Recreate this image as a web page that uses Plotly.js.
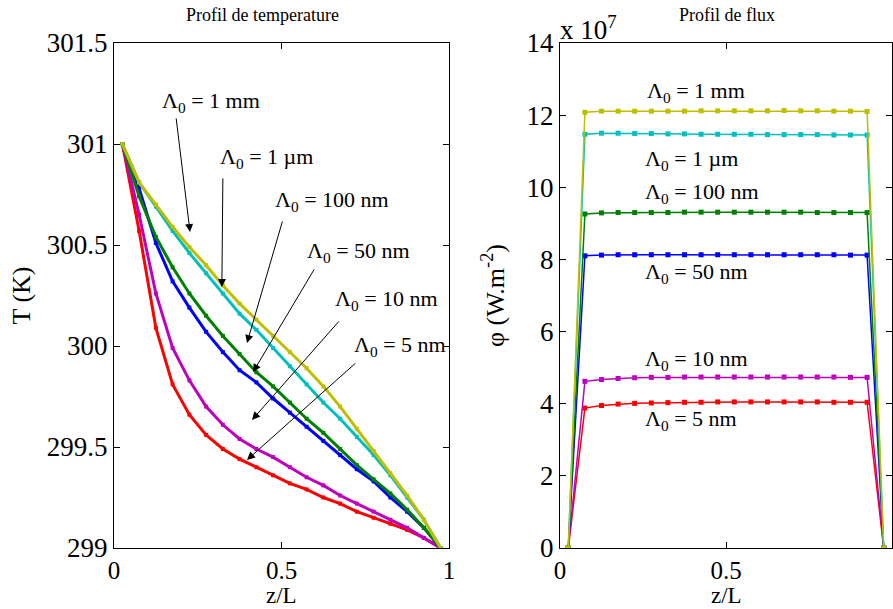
<!DOCTYPE html>
<html>
<head>
<meta charset="utf-8">
<script src="https://cdn.plot.ly/plotly-3.0.1.min.js"></script>
<style>html,body{margin:0;padding:0;background:#fff;}#chart{width:893px;height:609px;}</style>
</head>
<body>
<div id="chart"></div>
<script>
// positions z/L
const zT = [0.025,0.075,0.125,0.175,0.225,0.275,0.325,0.375,0.425,0.475,0.525,0.575,0.625,0.675,0.725,0.775,0.825,0.875,0.925,0.975];
const zF = [0.025,0.075,0.125,0.175,0.225,0.275,0.325,0.375,0.425,0.475,0.525,0.575,0.625,0.675,0.725,0.775,0.825,0.875,0.925,0.975];

const labels = ["Λ<sub>0</sub> = 5 nm","Λ<sub>0</sub> = 10 nm","Λ<sub>0</sub> = 50 nm","Λ<sub>0</sub> = 100 nm","Λ<sub>0</sub> = 1 µm","Λ<sub>0</sub> = 1 mm"];
const colors = ["#ff0000","#bf00bf","#0000ff","#008000","#00bfbf","#bfbf00"];

// Temperature profiles (K)
const T_5nm   = [301,300.57,300.09,299.81,299.66,299.56,299.49,299.44,299.40,299.36,299.32,299.29,299.25,299.22,299.18,299.15,299.12,299.09,299.05,299.0];
const T_10nm  = [301,300.65,300.26,299.99,299.83,299.70,299.61,299.54,299.49,299.45,299.40,299.35,299.31,299.26,299.22,299.18,299.14,299.10,299.05,299.0];
const T_50nm  = [301,300.78,300.51,300.32,300.19,300.07,299.97,299.88,299.82,299.74,299.67,299.60,299.53,299.46,299.39,299.33,299.25,299.18,299.10,299.0];
const T_100nm = [301,300.74,300.54,300.39,300.26,300.15,300.05,299.96,299.87,299.80,299.72,299.64,299.57,299.49,299.41,299.34,299.27,299.19,299.10,299.0];
const T_1um   = [301,300.81,300.69,300.57,300.46,300.36,300.26,300.16,300.08,299.99,299.90,299.81,299.72,299.64,299.55,299.46,299.36,299.25,299.14,299.0];
const T_1mm   = [301,300.81,300.70,300.59,300.49,300.40,300.30,300.21,300.13,300.05,299.97,299.89,299.80,299.70,299.59,299.48,299.37,299.26,299.14,299.0];

// Flux profiles (x 1e7 W.m^-2)
const F_5nm   = [0,3.88,3.95,3.99,4.01,4.02,4.03,4.04,4.04,4.05,4.05,4.05,4.05,4.05,4.05,4.05,4.04,4.04,4.04,0];
const F_10nm  = [0,4.62,4.67,4.70,4.72,4.73,4.73,4.74,4.74,4.74,4.74,4.74,4.74,4.74,4.74,4.74,4.74,4.73,4.73,0];
const F_50nm  = [0,8.10,8.12,8.13,8.13,8.13,8.13,8.13,8.13,8.13,8.13,8.13,8.13,8.13,8.13,8.13,8.13,8.12,8.12,0];
const F_100nm = [0,9.26,9.29,9.30,9.30,9.30,9.30,9.31,9.31,9.31,9.31,9.31,9.31,9.31,9.31,9.30,9.30,9.30,9.30,0];
const F_1um   = [0,11.47,11.50,11.50,11.49,11.49,11.48,11.48,11.47,11.47,11.47,11.47,11.46,11.46,11.46,11.46,11.45,11.45,11.45,0];
const F_1mm   = [0,12.08,12.11,12.11,12.11,12.11,12.11,12.11,12.12,12.12,12.12,12.12,12.12,12.13,12.12,12.12,12.11,12.11,12.10,0];

const Tset = [T_5nm,T_10nm,T_50nm,T_100nm,T_1um,T_1mm];
const Fset = [F_5nm,F_10nm,F_50nm,F_100nm,F_1um,F_1mm];

const FONT = "Liberation Serif, Times New Roman, serif";
const traces = [];
Tset.forEach((y,i)=>traces.push({x:zT,y:y,xaxis:'x',yaxis:'y',mode:'lines+markers',
  line:{color:colors[i],width:3},marker:{symbol:'square',size:4,color:colors[i]},name:labels[i],showlegend:false,hoverinfo:'skip'}));
Fset.forEach((y,i)=>traces.push({x:zF,y:y,xaxis:'x2',yaxis:'y2',mode:'lines+markers',
  line:{color:colors[i],width:1.5},marker:{symbol:'square',size:5,color:colors[i]},name:labels[i],showlegend:false,hoverinfo:'skip'}));

const W=893,H=609;
const axBase = {showline:true,mirror:'ticks',linecolor:'#000',linewidth:1,ticks:'inside',ticklen:6,tickcolor:'#000',
  showgrid:false,zeroline:false,tickfont:{family:FONT,size:27,color:'#000'},automargin:false};
const xTickFont = {family:FONT,size:25,color:'#000'};

// arrow annotations (left)
const arrowTxt = ["Λ<sub>0</sub> = 1 mm","Λ<sub>0</sub> = 1 µm","Λ<sub>0</sub> = 100 nm","Λ<sub>0</sub> = 50 nm","Λ<sub>0</sub> = 10 nm","Λ<sub>0</sub> = 5 nm"];
const txtX = [0.137,0.31,0.475,0.57,0.654,0.710];
const txtY = [301.21,300.93,300.72,300.465,300.228,300.0];
const tailX = [0.185,0.325,0.504,0.600,0.675,0.725];
const tailY = [301.134,300.837,300.624,300.386,300.129,299.921];
const headX = [0.227,0.322,0.397,0.415,0.412,0.397];
const headY = [300.564,300.292,300.015,299.871,299.634,299.436];

const ann = [];
arrowTxt.forEach((t,i)=>{
  ann.push({x:txtX[i],y:txtY[i],xref:'x',yref:'y',text:t,showarrow:false,xanchor:'left',yanchor:'middle',
    font:{family:FONT,size:22,color:'#000'}});
  ann.push({x:headX[i],y:headY[i],ax:tailX[i],ay:tailY[i],xref:'x',yref:'y',axref:'x',ayref:'y',text:'',
    showarrow:true,arrowhead:2,arrowsize:1.6,arrowwidth:1,arrowcolor:'#000'});
});
// right panel labels
const rTxt = ["Λ<sub>0</sub> = 1 mm","Λ<sub>0</sub> = 1 µm","Λ<sub>0</sub> = 100 nm","Λ<sub>0</sub> = 50 nm","Λ<sub>0</sub> = 10 nm","Λ<sub>0</sub> = 5 nm"];
const rX = [0.256,0.25,0.25,0.25,0.25,0.25];
const rY = [12.64,10.76,9.84,7.62,5.21,3.55];
rTxt.forEach((t,i)=>ann.push({x:rX[i],y:rY[i],xref:'x2',yref:'y2',text:t,showarrow:false,xanchor:'left',yanchor:'middle',
  font:{family:FONT,size:22,color:'#000'}}));
// titles
ann.push({x:262/W,y:1-15/H,xref:'paper',yref:'paper',text:'Profil de temperature',showarrow:false,xanchor:'center',yanchor:'middle',font:{family:FONT,size:18,color:'#000'}});
ann.push({x:727/W,y:1-15/H,xref:'paper',yref:'paper',text:'Profil de flux',showarrow:false,xanchor:'center',yanchor:'middle',font:{family:FONT,size:18,color:'#000'}});
ann.push({x:558/W,y:1-28/H,xref:'paper',yref:'paper',text:'x 10<sup>7</sup>',showarrow:false,xanchor:'left',yanchor:'middle',font:{family:FONT,size:27,color:'#000'}});
// x-axis titles
ann.push({x:281/W,y:0,xref:'paper',yref:'paper',text:'z/L',showarrow:false,xanchor:'center',yanchor:'bottom',borderpad:0,font:{family:FONT,size:23,color:'#000'}});
ann.push({x:726/W,y:0,xref:'paper',yref:'paper',text:'z/L',showarrow:false,xanchor:'center',yanchor:'bottom',borderpad:0,font:{family:FONT,size:23,color:'#000'}});

const layout = {
  width:W,height:H,margin:{l:0,r:0,t:0,b:0},paper_bgcolor:'#fff',plot_bgcolor:'#fff',showlegend:false,
  xaxis:Object.assign({},axBase,{domain:[114/W,449/W],range:[0,1],tickvals:[0,0.5,1],ticktext:['0','0.5','1'],tickfont:xTickFont}),
  yaxis:Object.assign({},axBase,{domain:[61/H,566/H],range:[299,301.5],dtick:0.5,
    title:{text:'T (K)',font:{family:FONT,size:26,color:'#000'},standoff:8}}),
  xaxis2:Object.assign({},axBase,{domain:[560/W,892/W],range:[0,1],anchor:'y2',tickvals:[0,0.5,1],ticktext:['0','0.5','1'],tickfont:xTickFont}),
  yaxis2:Object.assign({},axBase,{domain:[61/H,566/H],range:[0,14],dtick:2,anchor:'x2',
    title:{text:'φ (W.m<sup>-2</sup>)',font:{family:FONT,size:26,color:'#000'},standoff:14}}),
  annotations:ann
};
Plotly.newPlot('chart',traces,layout,{displayModeBar:false,staticPlot:true});
</script>
</body>
</html>
